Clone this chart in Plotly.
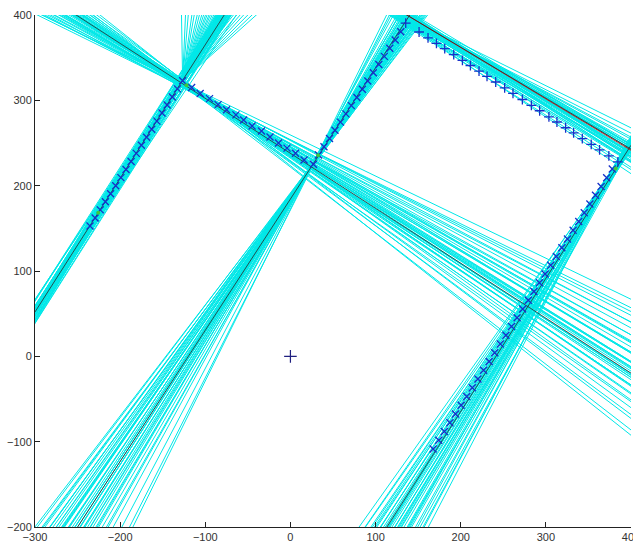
import numpy as np
import plotly.graph_objects as go

# ---------------- data ----------------
x_ticks = [-300, -200, -100, 0, 100, 200, 300, 400]
y_ticks = [-200, -100, 0, 100, 200, 300, 400]

# fitted (true) lines  y = m*x + b
true_slopes = [1.566, -0.644, 1.538, -0.597, 1.56]
true_intercepts = [521.8, 237.9, 184.4, 481.6, -376.6]
red_slope = -0.602
red_intercept = 482.3

# scan points per wall
l1_x = [-235.4, -229.4, -223.3, -217.3, -211.2, -205.2, -199.1, -193.1, -187.1, -181.0,
        -175.0, -168.9, -162.9, -156.8, -150.8, -144.8, -138.7, -132.7, -126.6]
l1_y = [152.7, 162.2, 171.6, 181.1, 190.5, 200.0, 209.4, 218.9, 228.3, 237.8,
        247.3, 256.7, 266.2, 275.6, 285.1, 294.5, 304.0, 313.4, 322.9]
l2_x = [-116, -106, -95, -85, -75, -64, -55, -45, -34, -24, -14, -4, 6, 16, 27]
l2_y = [315, 308, 302, 295, 289, 283, 277, 270, 264, 257, 250, 244, 238, 230, 225]
l3_x = [33, 39.4, 45.9, 52.3, 58.8, 65.2, 71.6, 78.1, 84.5, 90.9, 97.4, 103.8, 110.3,
        116.7, 123.1, 129.6]
l3_y = [236, 245.6, 255.3, 264.9, 274.5, 284.1, 293.8, 303.4, 313, 322.6, 332.3, 341.9,
        351.5, 361.1, 370.8, 380.4]
l4_x = [135.4, 151.1, 161.6, 171.5, 181.2, 191.8, 202, 211.4, 221.5, 230.9, 241.1, 251.6,
        261.4, 272.4, 283, 292.7, 303.6, 313, 323.2, 332.6, 342.8, 353.3, 363.1, 374, 384.6]
l4_y = [390.4, 380.1, 373.3, 366.8, 360.5, 353.6, 346.9, 340.8, 334.2, 328.1, 321.5, 314.6,
        308.2, 301.0, 294.1, 287.8, 280.7, 274.6, 267.9, 261.8, 255.1, 248.3, 241.9, 234.8, 227.9]
l5_x = [378.0, 371.4, 364.9, 358.3, 351.7, 345.1, 338.6, 332.0, 325.4, 318.8, 312.3,
        305.7, 299.1, 292.5, 286.0, 279.4, 272.8, 266.2, 259.7, 253.1, 246.5, 239.9, 233.4,
        226.8, 220.2, 213.6, 207.1, 200.5, 193.9, 187.3, 180.8, 174.2, 167.6]
l5_y = [219.5, 209.3, 199.0, 188.8, 178.5, 168.3, 158.0, 147.8, 137.5, 127.2, 117.0,
        106.7, 96.5, 86.2, 76.0, 65.7, 55.5, 45.2, 35.0, 24.7, 14.4, 4.2, -6.1,
        -16.3, -26.6, -36.8, -47.1, -57.3, -67.6, -77.8, -88.1, -98.4, -108.6]
green_x = [-225.7, -122.0, 32.5, 382.0]
green_y = [168.4, 317.8, 235.7, 220.0]
origin_x = [0]
origin_y = [0]

# sampled line hypotheses: pivot, direction angles (deg), perpendicular offsets
s1_pivot = (-200.0, 208.6)
s1_angles = [56.0, 56.2, 56.4, 56.5, 56.7, 56.8, 56.9, 57.0, 57.1, 57.15, 57.2, 57.25,
             57.3, 57.35, 57.4, 57.45, 57.5, 57.55, 57.6, 57.65, 57.7, 57.8, 57.9, 58.0,
             58.1, 58.2, 58.3, 58.45, 58.6, 58.8, 59.0, 57.3, 57.5, 57.7, 57.0]
s1_offsets = [-6, 4, -3, 5, -1, 2, -4, 0, 3, -2, 6, -5, 1, -3, 2, 0, -1, 4, -2, 3,
              -6, 1, -4, 5, 0, -3, 2, -1, 4, -2, 0, 7, -7, 3, -5]

s1b_pivot = (-126.6, 322.9)   # hypotheses branching from the corner (one-sided)
s1b_angles = [91.0, 87.5, 85.1, 82.0, 80.0, 77.5, 75.7, 73.8, 72.3, 70.8, 69.6, 68.2,
              67.1, 65.8, 64.6, 63.6, 62.8, 61.9, 61.1, 60.2, 59.4, 58.7, 58.0, 57.3,
              56.7, 55.9, 55.2, 54.4, 53.7, 52.3, 50.5, 48.8, 47.1, 45.2, 43.4, 41.7]
s1b_offsets = [0] * len(s1b_angles)

s2_pivot = (-110.0, 309.0)
s2_angles = [-38.3, -37.6, -37.0, -36.4, -35.9, -35.5, -35.1, -34.8, -34.5, -34.2,
             -33.9, -33.7, -33.5, -33.3, -33.1, -32.95, -32.8, -32.65, -32.5, -32.3,
             -32.1, -31.9, -31.7, -31.5, -31.2, -30.9, -30.6, -30.3, -30.0, -29.6,
             -29.2, -28.8, -28.4, -28.0, -27.6, -27.2, -26.7, -26.2, -25.7, -33.0,
             -32.4, -31.8, -34.0, -30.8, -29.9]
s2_offsets = [1, -2, 2, -1, 0, 3, -3, 1, -1, 2, 0, -2, 1, 3, -1, 0, 2, -2, 1, 0,
              -1, 2, 0, -3, 3, 1, -2, 0, 2, -1, 1, -3, 0, 2, -2, 1, 0, -1, 3, -2,
              2, 0, 1, -1, 0]

s3_pivot = (25.0, 222.9)
s3_angles = [52.45, 52.8, 53.06, 53.3, 53.58, 53.84, 54.0, 54.11, 54.3, 54.56, 54.75,
             54.92, 55.1, 55.29, 55.45, 55.65, 55.84, 56.02, 56.21, 56.39, 56.55, 56.67,
             56.82, 56.96, 57.1, 57.25, 57.4, 57.54, 57.7, 57.93, 58.1, 58.32, 58.5,
             58.72, 58.95, 59.21, 59.5, 59.82, 60.2, 60.53, 61.25, 62.20, 63.04, 63.59,
             55.5]
s3_offsets = [0, 1, -1, 0, 1, -1, 0, 1, 0, -1, 1, 0, -1, 0, 0, 1, -1, 0, 1, 0,
              -1, 0, 1, 0, -1, 0, 1, -1, 0, 1, 0, -1, 1, 0, -1, 0, 1, 0, -1, 0,
              1, 0, -1, 0, 1]

s4_pivot = (140.0, 394.0)
s4_angles = [-33.6, -33.3, -33.0, -32.8, -32.5, -32.3, -32.1, -31.95, -31.8, -31.65,
             -31.5, -31.4, -31.3, -31.2, -31.1, -31.0, -30.9, -30.8, -30.7, -30.55,
             -30.4, -30.25, -30.1, -29.9, -29.7, -29.45, -29.2, -28.9, -28.6, -28.0,
             -27.0, -26.3, -32.0, -31.2, -30.6, -30.0]
s4_offsets = [-6, 4, -3, 7, -8, 2, -1, 5, -4, 0, 3, -7, 6, -2, 1, 2, 0, 8, -5, 4,
              -3, 5, -6, 1, -2, 3, 0, -4, 2, 1, 0, 2, 6, -6, -1, 3]

s5_pivot = (380.0, 217.0)
s5_angles = [54.55, 54.9, 55.3, 55.6, 55.9, 56.1, 56.3, 56.5, 56.7, 56.9, 57.05, 57.2,
             57.35, 57.5, 57.65, 57.8, 57.95, 58.1, 58.3, 58.5, 58.7, 58.9, 59.1, 59.4,
             59.65, 59.9, 60.2, 60.5, 60.8, 61.0, 61.3, 61.6, 62.0, 62.4, 57.0, 58.0,
             59.0, 56.0, 60.0, 58.4]
s5_offsets = [2, -1, 3, 0, -2, 1, -3, 2, 0, -1, 3, -2, 1, 0, -1, 2, -3, 1, 0, -2,
              3, -1, 2, 0, -2, 1, -1, 3, 0, -3, 2, -1, 1, 0, -2, 3, -1, 2, 0, -2]

families = [
    (s1_pivot, s1_angles, s1_offsets, False),
    (s1b_pivot, s1b_angles, s1b_offsets, True),
    (s2_pivot, s2_angles, s2_offsets, False),
    (s3_pivot, s3_angles, s3_offsets, False),
    (s4_pivot, s4_angles, s4_offsets, False),
    (s5_pivot, s5_angles, s5_offsets, False),
]

# ---------------- figure ----------------
CYAN = "#00e8e8"
fig = go.Figure()

for pivot, angles, offsets, one_sided in families:
    xs, ys = [], []
    for a, o in zip(angles, offsets):
        r = np.radians(a)
        dx, dy = np.cos(r), np.sin(r)
        px = pivot[0] - o * dy
        py = pivot[1] + o * dx
        t0 = 0.0 if one_sided else -1200.0
        t1 = 1200.0
        xs += [px + t0 * dx, px + t1 * dx, None]
        ys += [py + t0 * dy, py + t1 * dy, None]
    fig.add_trace(go.Scatter(x=xs, y=ys, mode="lines",
                             line=dict(color=CYAN, width=1), hoverinfo="skip"))

# red reference line under the black ones
rx = np.array([-300.0, 400.0])
fig.add_trace(go.Scatter(x=rx, y=red_slope * rx + red_intercept, mode="lines",
                         line=dict(color="#d02020", width=1), hoverinfo="skip"))

bx, by = [], []
for m, b in zip(true_slopes, true_intercepts):
    xx = np.array([-300.0, 400.0])
    bx += list(xx) + [None]
    by += list(m * xx + b) + [None]
fig.add_trace(go.Scatter(x=bx, y=by, mode="lines",
                         line=dict(color="#2a2a2a", width=0.8), hoverinfo="skip"))

BLUE = "#1830c8"
for xs, ys, sym in [(l1_x, l1_y, "x-thin"), (l2_x, l2_y, "x-thin"),
                    (l3_x, l3_y, "x-thin"), (l4_x, l4_y, "cross-thin"),
                    (l5_x, l5_y, "x-thin")]:
    fig.add_trace(go.Scatter(x=xs, y=ys, mode="markers",
                             marker=dict(symbol=sym, size=7,
                                         line=dict(color=BLUE, width=1.3)),
                             hoverinfo="skip"))

fig.add_trace(go.Scatter(x=green_x, y=green_y, mode="markers",
                         marker=dict(symbol="circle", size=4, color="#3ec83e"),
                         hoverinfo="skip"))
fig.add_trace(go.Scatter(x=origin_x, y=origin_y, mode="markers",
                         marker=dict(symbol="cross-thin", size=9,
                                     line=dict(color="#202080", width=1.2)),
                         hoverinfo="skip"))

axis_common = dict(showgrid=False, zeroline=False, showline=True,
                   linecolor="#222222", linewidth=1, ticks="inside", ticklen=5,
                   tickcolor="#222222", tickwidth=1, mirror=False,
                   tickfont=dict(family="Liberation Sans, Arial, sans-serif",
                                 size=11, color="#333333"),
                   ticklabeloverflow="allow",
                   automargin=False)

fig.update_layout(
    width=633, height=542,
    margin=dict(l=35, r=2, t=15, b=15),
    paper_bgcolor="white", plot_bgcolor="white",
    showlegend=False,
    xaxis=dict(range=[-300, 400], tickvals=x_ticks, **axis_common),
    yaxis=dict(range=[-200, 400], tickvals=y_ticks, **axis_common),
)

fig.write_html("out.html",
               config={"displayModeBar": False},
               post_script="document.body.style.margin='0';"
                           "document.body.style.overflow='hidden';")
